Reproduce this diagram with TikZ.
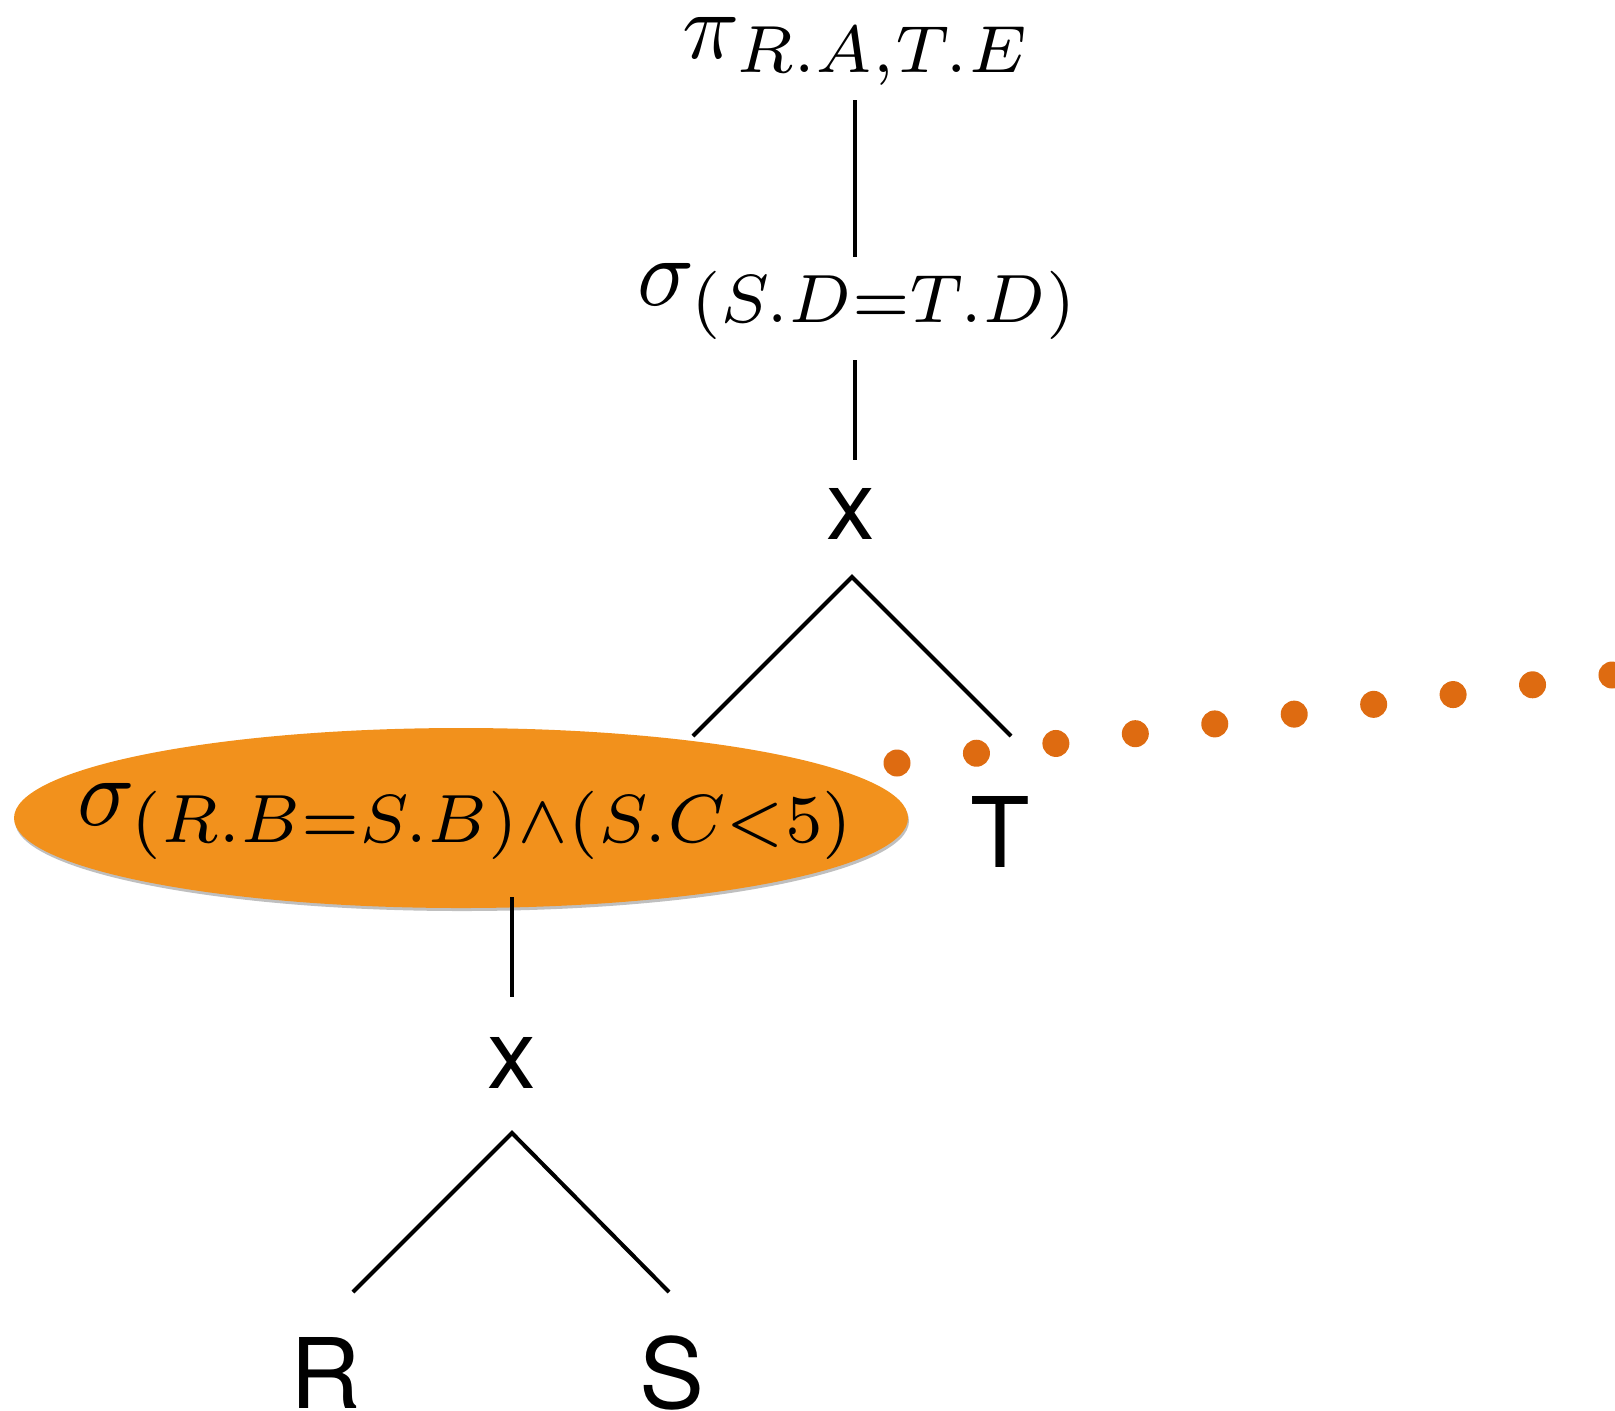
\documentclass[tikz,border=0pt]{standalone}
\usepackage[no-math]{fontspec}
\newfontfamily\helv{TeX Gyre Heros}
\usepackage{graphicx}
\usetikzlibrary{shapes.geometric,shadows}
\definecolor{ellorange}{RGB}{242,145,28}
\definecolor{dotorange}{RGB}{222,107,17}
\scriptspace=0pt
\tikzset{
  edge/.style={line width=2pt, black},
  lbl/.style={font=\helv\fontsize{48.7pt}{58pt}\selectfont, inner sep=0pt, anchor=base},
  mathlbl/.style={inner sep=0pt, anchor=base west},
  selnode/.style={ellipse, fill=ellorange, minimum width=447pt, minimum height=90pt, inner sep=0pt,
    drop shadow={shadow xshift=0.5pt, shadow yshift=-1.5pt, opacity=0.25, fill=black}},
  dotline/.style={line width=13.5pt, dotorange, line cap=round, dash pattern=on 0pt off 40.02pt},
}
\begin{document}
\begin{tikzpicture}[x=0.5pt,y=-0.5pt]
\useasboundingbox (0,0) rectangle (1615,1410);

% projection
\node[mathlbl] (pi) at (682,58) {\resizebox{172.5pt}{20.5pt}{$\pi_{R.A,T.E}$}};
\coordinate (v1a) at (855,100);
\coordinate (v1b) at (855,257);
\draw[edge] (v1a) -- (v1b);

% selection S.D = T.D
\begin{scope}
  \clip (0,0) rectangle (1615,340);
  \node[mathlbl] (sd) at (637,305) {\resizebox{219pt}{21pt}{$\sigma_{(S.D=T.D)}$}};
\end{scope}
\coordinate (v2a) at (855,360);
\coordinate (v2b) at (855,460);
\draw[edge] (v2a) -- (v2b);

% upper cross product
\node[lbl] (x1) at (851,539) {x};
\coordinate (j1) at (852,577);
\coordinate (e1l) at (693,736);
\coordinate (e1r) at (1011,736);
\draw[edge] (e1l) -- (j1) -- (e1r);

% highlighted selection
\node[selnode] (sel) at (461,818) {};
\begin{scope}
  \clip (0,0) rectangle (1615,860);
  \node[mathlbl] (selt) at (77,825) {\resizebox{387.5pt}{21pt}{$\sigma_{(R.B=S.B)\wedge(S.C<5)}$}};
\end{scope}

\node[lbl] (T) at (1000,867) {T};

% dotted callout
\coordinate (d0) at (897,763);
\coordinate (d9) at (1612,675);
\draw[dotline] (d0) -- (d9);

% lower part
\coordinate (v3a) at (512,897);
\coordinate (v3b) at (512,997);
\draw[edge] (v3a) -- (v3b);

\node[lbl] (x2) at (512,1088) {x};
\coordinate (j2) at (512,1133);
\coordinate (e2l) at (353,1292);
\coordinate (e2r) at (669,1292);
\draw[edge] (e2l) -- (j2) -- (e2r);

\node[lbl] (R) at (326,1408) {R};
\node[lbl] (S) at (672,1408) {S};
\end{tikzpicture}
\end{document}
